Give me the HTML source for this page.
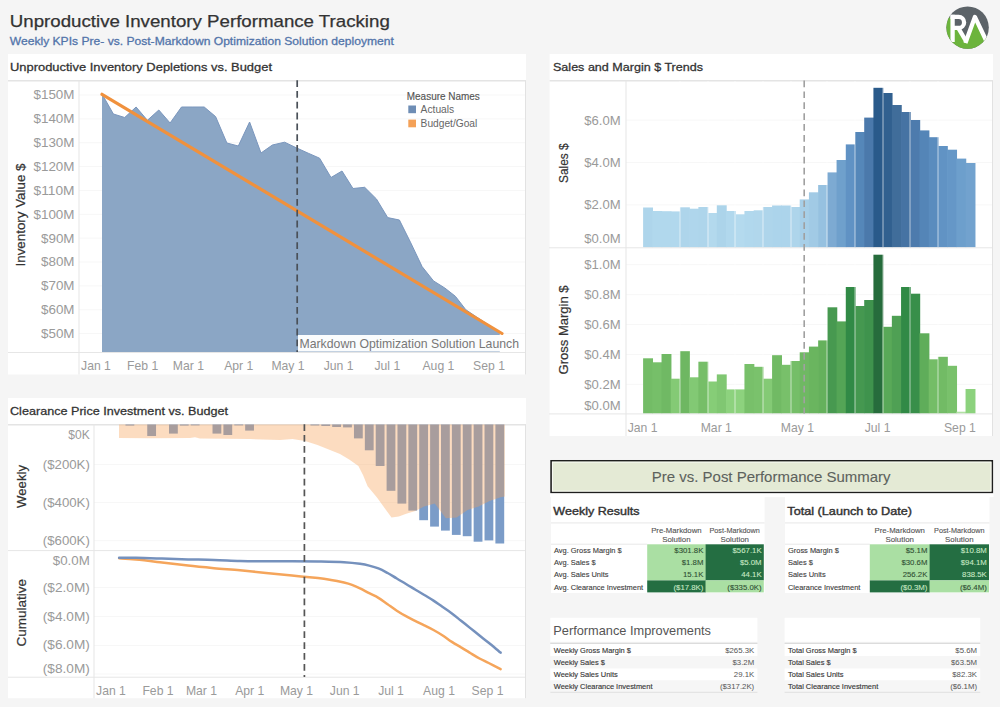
<!DOCTYPE html><html><head><meta charset="utf-8"><title>Unproductive Inventory Performance Tracking</title>
<style>html,body{margin:0;padding:0;background:#f5f5f5;}body{width:1000px;height:707px;overflow:hidden;font-family:"Liberation Sans", sans-serif;}svg{display:block;}svg text{font-family:"Liberation Sans", sans-serif;}</style></head><body>
<svg width="1000" height="707" viewBox="0 0 1000 707">
<rect x="0" y="0" width="1000" height="707" fill="#f5f5f5"/>
<text x="9.80" y="27.20" font-size="16.8" fill="#333333" textLength="380" lengthAdjust="spacingAndGlyphs" stroke="#333333" stroke-width="0.25" >Unproductive Inventory Performance Tracking</text>
<text x="9.80" y="45.00" font-size="11.6" fill="#5274aa" textLength="384" lengthAdjust="spacingAndGlyphs" stroke="#5274aa" stroke-width="0.3" >Weekly KPIs Pre- vs. Post-Markdown Optimization Solution deployment</text>
<defs><clipPath id="lc"><circle cx="967.6" cy="27.6" r="21.2"/></clipPath></defs>
<g clip-path="url(#lc)"><rect x="940" y="0" width="60" height="60" fill="#5c6368"/><path d="M940 17.5 L952 17.5 L952 28 L960 28 L966.3 38 L975.8 20 L986 37 L992 37 L992 55 L940 55 Z" fill="#6cb43c"/><g fill="none" stroke="#ffffff" stroke-width="4.3"><path d="M952.6 14.8 L952.6 42"/><path d="M950.5 16.9 H958.6 A5.5 5.5 0 0 1 958.6 27.9 H952.6"/><path d="M958 27.5 L966.5 42"/><path d="M965.4 43 L974.9 16.9 L987.8 44" stroke-linejoin="round"/></g></g>
<rect x="8" y="54" width="518" height="320.5" fill="#ffffff"/>
<rect x="8" y="80" width="518" height="1.5" fill="#e4e4e4"/>
<text x="10.00" y="70.70" font-size="11.6" fill="#333333" textLength="262" lengthAdjust="spacingAndGlyphs" stroke="#333333" stroke-width="0.28" >Unproductive Inventory Depletions vs. Budget</text>
<rect x="79" y="94.50" width="446" height="1" fill="#f7f7f7"/>
<rect x="79" y="118.36" width="446" height="1" fill="#f7f7f7"/>
<rect x="79" y="142.22" width="446" height="1" fill="#f7f7f7"/>
<rect x="79" y="166.08" width="446" height="1" fill="#f7f7f7"/>
<rect x="79" y="189.94" width="446" height="1" fill="#f7f7f7"/>
<rect x="79" y="213.80" width="446" height="1" fill="#f7f7f7"/>
<rect x="79" y="237.66" width="446" height="1" fill="#f7f7f7"/>
<rect x="79" y="261.52" width="446" height="1" fill="#f7f7f7"/>
<rect x="79" y="285.38" width="446" height="1" fill="#f7f7f7"/>
<rect x="79" y="309.24" width="446" height="1" fill="#f7f7f7"/>
<rect x="79" y="333.10" width="446" height="1" fill="#f7f7f7"/>
<polygon points="102.0,352.5 102.0,94.0 113.4,114.0 124.7,117.5 136.1,107.0 147.4,120.3 158.8,110.0 170.1,123.0 181.5,107.0 192.9,107.0 204.2,107.0 215.6,116.6 226.9,143.0 238.3,146.0 249.6,122.0 261.0,153.0 272.4,145.0 284.6,142.2 296.3,147.8 308.2,153.2 319.6,158.2 331.0,177.5 342.0,171.0 353.0,188.5 364.7,187.3 376.4,198.9 387.7,217.6 399.4,220.0 410.8,242.9 422.1,266.6 433.5,280.9 444.8,288.0 455.4,296.3 465.8,309.7 476.6,317.0 488.0,324.5 499.8,332.5 499.8,352.5" fill="#8ba6c5"/>
<polyline points="102.0,94.0 113.4,114.0 124.7,117.5 136.1,107.0 147.4,120.3 158.8,110.0 170.1,123.0 181.5,107.0 192.9,107.0 204.2,107.0 215.6,116.6 226.9,143.0 238.3,146.0 249.6,122.0 261.0,153.0 272.4,145.0 284.6,142.2 296.3,147.8 308.2,153.2 319.6,158.2 331.0,177.5 342.0,171.0 353.0,188.5 364.7,187.3 376.4,198.9 387.7,217.6 399.4,220.0 410.8,242.9 422.1,266.6 433.5,280.9 444.8,288.0 455.4,296.3 465.8,309.7 476.6,317.0 488.0,324.5 499.8,332.5" fill="none" stroke="#7a96bd" stroke-width="1" stroke-linejoin="round"/>
<line x1="102" y1="94.3" x2="502" y2="333.5" stroke="#f0913d" stroke-width="3.2" stroke-linecap="round"/>
<rect x="78.50" y="81" width="1" height="293.5" fill="#e6e6e6"/>
<rect x="8" y="352.00" width="517" height="1" fill="#e6e6e6"/>
<rect x="525.00" y="81" width="1" height="293.5" fill="#e2e2e2"/>
<line x1="297.2" y1="80.2" x2="297.2" y2="352" stroke="#4a5058" stroke-width="1.7" stroke-dasharray="6.8 4"/>
<rect x="298" y="335" width="223" height="16.5" fill="#ffffff" fill-opacity="0.96"/>
<text x="299.50" y="347.50" font-size="12.2" fill="#777777" textLength="219.5" lengthAdjust="spacingAndGlyphs" >Markdown Optimization Solution Launch</text>
<text x="74.50" y="99.40" font-size="12.2" fill="#9a9a9a" text-anchor="end" textLength="41" lengthAdjust="spacingAndGlyphs" >$150M</text>
<text x="74.50" y="123.26" font-size="12.2" fill="#9a9a9a" text-anchor="end" textLength="41" lengthAdjust="spacingAndGlyphs" >$140M</text>
<text x="74.50" y="147.12" font-size="12.2" fill="#9a9a9a" text-anchor="end" textLength="41" lengthAdjust="spacingAndGlyphs" >$130M</text>
<text x="74.50" y="170.98" font-size="12.2" fill="#9a9a9a" text-anchor="end" textLength="41" lengthAdjust="spacingAndGlyphs" >$120M</text>
<text x="74.50" y="194.84" font-size="12.2" fill="#9a9a9a" text-anchor="end" textLength="41" lengthAdjust="spacingAndGlyphs" >$110M</text>
<text x="74.50" y="218.70" font-size="12.2" fill="#9a9a9a" text-anchor="end" textLength="41" lengthAdjust="spacingAndGlyphs" >$100M</text>
<text x="74.50" y="242.56" font-size="12.2" fill="#9a9a9a" text-anchor="end" textLength="33.5" lengthAdjust="spacingAndGlyphs" >$90M</text>
<text x="74.50" y="266.42" font-size="12.2" fill="#9a9a9a" text-anchor="end" textLength="33.5" lengthAdjust="spacingAndGlyphs" >$80M</text>
<text x="74.50" y="290.28" font-size="12.2" fill="#9a9a9a" text-anchor="end" textLength="33.5" lengthAdjust="spacingAndGlyphs" >$70M</text>
<text x="74.50" y="314.14" font-size="12.2" fill="#9a9a9a" text-anchor="end" textLength="33.5" lengthAdjust="spacingAndGlyphs" >$60M</text>
<text x="74.50" y="338.00" font-size="12.2" fill="#9a9a9a" text-anchor="end" textLength="33.5" lengthAdjust="spacingAndGlyphs" >$50M</text>
<text x="0" y="0" font-size="12.3" fill="#333333" text-anchor="middle" transform="translate(25.4,215) rotate(-90)" textLength="103" lengthAdjust="spacingAndGlyphs" stroke="#333333" stroke-width="0.2">Inventory Value $</text>
<text x="96.00" y="370.30" font-size="12.2" fill="#9a9a9a" text-anchor="middle" >Jan 1</text>
<text x="142.60" y="370.30" font-size="12.2" fill="#9a9a9a" text-anchor="middle" >Feb 1</text>
<text x="188.40" y="370.30" font-size="12.2" fill="#9a9a9a" text-anchor="middle" >Mar 1</text>
<text x="238.70" y="370.30" font-size="12.2" fill="#9a9a9a" text-anchor="middle" >Apr 1</text>
<text x="288.00" y="370.30" font-size="12.2" fill="#9a9a9a" text-anchor="middle" >May 1</text>
<text x="338.60" y="370.30" font-size="12.2" fill="#9a9a9a" text-anchor="middle" >Jun 1</text>
<text x="387.30" y="370.30" font-size="12.2" fill="#9a9a9a" text-anchor="middle" >Jul 1</text>
<text x="438.40" y="370.30" font-size="12.2" fill="#9a9a9a" text-anchor="middle" >Aug 1</text>
<text x="489.00" y="370.30" font-size="12.2" fill="#9a9a9a" text-anchor="middle" >Sep 1</text>
<text x="406.80" y="100.00" font-size="10.4" fill="#555555" textLength="73" lengthAdjust="spacingAndGlyphs" stroke="#555555" stroke-width="0.15" >Measure Names</text>
<rect x="408.3" y="105.5" width="7.7" height="7.7" fill="#6e8db5"/>
<rect x="408.3" y="119.6" width="7.7" height="7.7" fill="#f4a158"/>
<text x="420.60" y="113.20" font-size="10.4" fill="#666666" textLength="33.6" lengthAdjust="spacingAndGlyphs" >Actuals</text>
<text x="420.60" y="127.30" font-size="10.4" fill="#666666" textLength="56.7" lengthAdjust="spacingAndGlyphs" >Budget/Goal</text>
<rect x="549.6" y="54" width="443.4" height="382" fill="#ffffff"/>
<rect x="549.6" y="80" width="443.4" height="1.5" fill="#e4e4e4"/>
<text x="553.00" y="70.70" font-size="11.6" fill="#333333" textLength="150" lengthAdjust="spacingAndGlyphs" stroke="#333333" stroke-width="0.28" >Sales and Margin $ Trends</text>
<rect x="626" y="204.40" width="366" height="1" fill="#f7f7f7"/>
<rect x="626" y="162.00" width="366" height="1" fill="#f7f7f7"/>
<rect x="626" y="119.60" width="366" height="1" fill="#f7f7f7"/>
<rect x="626" y="383.88" width="366" height="1" fill="#f7f7f7"/>
<rect x="626" y="353.96" width="366" height="1" fill="#f7f7f7"/>
<rect x="626" y="324.04" width="366" height="1" fill="#f7f7f7"/>
<rect x="626" y="294.12" width="366" height="1" fill="#f7f7f7"/>
<rect x="626" y="264.20" width="366" height="1" fill="#f7f7f7"/>
<rect x="643.10" y="207.5" width="9.91" height="39.80" fill="#aed5eb"/>
<rect x="652.31" y="211" width="9.91" height="36.30" fill="#b1d8ed"/>
<rect x="661.53" y="211.2" width="9.91" height="36.10" fill="#b1d8ed"/>
<rect x="670.74" y="211.4" width="9.91" height="35.90" fill="#b1d8ed"/>
<rect x="679.95" y="207.3" width="9.91" height="40.00" fill="#aed5eb"/>
<rect x="689.16" y="208.7" width="9.91" height="38.60" fill="#afd6ec"/>
<rect x="698.38" y="207" width="9.91" height="40.30" fill="#aed5eb"/>
<rect x="707.59" y="213" width="9.91" height="34.30" fill="#b3d9ed"/>
<rect x="716.80" y="205.3" width="9.91" height="42.00" fill="#acd4ea"/>
<rect x="726.02" y="211" width="9.91" height="36.30" fill="#b1d8ed"/>
<rect x="735.23" y="214.3" width="9.91" height="33.00" fill="#b4daee"/>
<rect x="744.44" y="211" width="9.91" height="36.30" fill="#b1d8ed"/>
<rect x="753.66" y="210.3" width="9.91" height="37.00" fill="#b1d7ec"/>
<rect x="762.87" y="207" width="9.91" height="40.30" fill="#aed5eb"/>
<rect x="772.08" y="205.5" width="9.91" height="41.80" fill="#acd4eb"/>
<rect x="781.30" y="205.5" width="9.91" height="41.80" fill="#acd4eb"/>
<rect x="790.51" y="207" width="9.91" height="40.30" fill="#aed5eb"/>
<rect x="799.72" y="199.4" width="9.91" height="47.90" fill="#a7cfe8"/>
<rect x="808.93" y="192.3" width="9.91" height="55.00" fill="#a1cae5"/>
<rect x="818.15" y="185" width="9.91" height="62.30" fill="#96c1e0"/>
<rect x="827.36" y="172.4" width="9.91" height="74.90" fill="#7daad2"/>
<rect x="836.57" y="160" width="9.91" height="87.30" fill="#6fa0cc"/>
<rect x="845.79" y="144.4" width="9.91" height="102.90" fill="#6092c4"/>
<rect x="855.00" y="132" width="9.91" height="115.30" fill="#5587b9"/>
<rect x="864.21" y="117.6" width="9.91" height="129.70" fill="#4b79ab"/>
<rect x="873.42" y="87.8" width="9.91" height="159.50" fill="#2a5a8a"/>
<rect x="882.64" y="93" width="9.91" height="154.30" fill="#31608f"/>
<rect x="891.85" y="105" width="9.91" height="142.30" fill="#406d9a"/>
<rect x="901.06" y="112" width="9.91" height="135.30" fill="#4673a3"/>
<rect x="910.28" y="120" width="9.91" height="127.30" fill="#4d7bad"/>
<rect x="919.49" y="130.4" width="9.91" height="116.90" fill="#5485b7"/>
<rect x="928.70" y="137.2" width="9.91" height="110.10" fill="#5a8cbe"/>
<rect x="937.92" y="146" width="9.91" height="101.30" fill="#6193c4"/>
<rect x="947.13" y="149.7" width="9.91" height="97.60" fill="#6597c7"/>
<rect x="956.34" y="158.6" width="9.91" height="88.70" fill="#6d9fcc"/>
<rect x="965.56" y="163" width="9.91" height="84.30" fill="#72a2ce"/>
<rect x="643.10" y="358.3" width="9.91" height="55.30" fill="#73bc66"/>
<rect x="652.31" y="362.3" width="9.91" height="51.30" fill="#76bf69"/>
<rect x="661.53" y="354" width="9.91" height="59.60" fill="#70b964"/>
<rect x="670.74" y="378.7" width="9.91" height="34.90" fill="#84ca75"/>
<rect x="679.95" y="351.2" width="9.91" height="62.40" fill="#6eb762"/>
<rect x="689.16" y="377.3" width="9.91" height="36.30" fill="#82c974"/>
<rect x="698.38" y="361.7" width="9.91" height="51.90" fill="#76be68"/>
<rect x="707.59" y="381.5" width="9.91" height="32.10" fill="#86cd77"/>
<rect x="716.80" y="374.4" width="9.91" height="39.20" fill="#80c772"/>
<rect x="726.02" y="389.4" width="9.91" height="24.20" fill="#8dd27e"/>
<rect x="735.23" y="389.4" width="9.91" height="24.20" fill="#8dd27e"/>
<rect x="744.44" y="364" width="9.91" height="49.60" fill="#78c06a"/>
<rect x="753.66" y="366.8" width="9.91" height="46.80" fill="#7ac26c"/>
<rect x="762.87" y="378.7" width="9.91" height="34.90" fill="#84ca75"/>
<rect x="772.08" y="355.2" width="9.91" height="58.40" fill="#71ba64"/>
<rect x="781.30" y="364.8" width="9.91" height="48.80" fill="#78c06a"/>
<rect x="790.51" y="361" width="9.91" height="52.60" fill="#75be68"/>
<rect x="799.72" y="352.3" width="9.91" height="61.30" fill="#6fb863"/>
<rect x="808.93" y="346.6" width="9.91" height="67.00" fill="#6ab55f"/>
<rect x="818.15" y="340.4" width="9.91" height="73.20" fill="#65b15c"/>
<rect x="827.36" y="307.3" width="9.91" height="106.30" fill="#479950"/>
<rect x="836.57" y="321.4" width="9.91" height="92.20" fill="#54a556"/>
<rect x="845.79" y="287" width="9.91" height="126.60" fill="#318a46"/>
<rect x="855.00" y="306" width="9.91" height="107.60" fill="#459850"/>
<rect x="864.21" y="300" width="9.91" height="113.60" fill="#3f934d"/>
<rect x="873.42" y="254.7" width="9.91" height="158.90" fill="#266c3c"/>
<rect x="882.64" y="326.8" width="9.91" height="86.80" fill="#59a958"/>
<rect x="891.85" y="315.8" width="9.91" height="97.80" fill="#4fa054"/>
<rect x="901.06" y="287" width="9.91" height="126.60" fill="#318a46"/>
<rect x="910.28" y="293.7" width="9.91" height="119.90" fill="#388f4a"/>
<rect x="919.49" y="333.3" width="9.91" height="80.30" fill="#5fad5a"/>
<rect x="928.70" y="359.3" width="9.91" height="54.30" fill="#74bd67"/>
<rect x="937.92" y="356.8" width="9.91" height="56.80" fill="#72bb65"/>
<rect x="947.13" y="365.8" width="9.91" height="47.80" fill="#79c16b"/>
<rect x="956.34" y="411.7" width="9.91" height="1.90" fill="#b2e0a5"/>
<rect x="965.56" y="389" width="9.91" height="24.60" fill="#8cd27d"/>
<rect x="679.50" y="81" width="1" height="166.3" fill="#ffffff" fill-opacity="0.6"/>
<rect x="679.50" y="248.5" width="1" height="165.10000000000002" fill="#ffffff" fill-opacity="0.6"/>
<rect x="707.50" y="81" width="1" height="166.3" fill="#ffffff" fill-opacity="0.6"/>
<rect x="707.50" y="248.5" width="1" height="165.10000000000002" fill="#ffffff" fill-opacity="0.6"/>
<rect x="734.50" y="81" width="1" height="166.3" fill="#ffffff" fill-opacity="0.6"/>
<rect x="734.50" y="248.5" width="1" height="165.10000000000002" fill="#ffffff" fill-opacity="0.6"/>
<rect x="762.50" y="81" width="1" height="166.3" fill="#ffffff" fill-opacity="0.6"/>
<rect x="762.50" y="248.5" width="1" height="165.10000000000002" fill="#ffffff" fill-opacity="0.6"/>
<rect x="790.50" y="81" width="1" height="166.3" fill="#ffffff" fill-opacity="0.6"/>
<rect x="790.50" y="248.5" width="1" height="165.10000000000002" fill="#ffffff" fill-opacity="0.6"/>
<rect x="826.50" y="81" width="1" height="166.3" fill="#ffffff" fill-opacity="0.6"/>
<rect x="826.50" y="248.5" width="1" height="165.10000000000002" fill="#ffffff" fill-opacity="0.6"/>
<rect x="854.50" y="81" width="1" height="166.3" fill="#ffffff" fill-opacity="0.6"/>
<rect x="854.50" y="248.5" width="1" height="165.10000000000002" fill="#ffffff" fill-opacity="0.6"/>
<rect x="882.50" y="81" width="1" height="166.3" fill="#ffffff" fill-opacity="0.6"/>
<rect x="882.50" y="248.5" width="1" height="165.10000000000002" fill="#ffffff" fill-opacity="0.6"/>
<rect x="909.50" y="81" width="1" height="166.3" fill="#ffffff" fill-opacity="0.6"/>
<rect x="909.50" y="248.5" width="1" height="165.10000000000002" fill="#ffffff" fill-opacity="0.6"/>
<rect x="937.50" y="81" width="1" height="166.3" fill="#ffffff" fill-opacity="0.6"/>
<rect x="937.50" y="248.5" width="1" height="165.10000000000002" fill="#ffffff" fill-opacity="0.6"/>
<rect x="625.50" y="81" width="1" height="355" fill="#e6e6e6"/>
<rect x="549" y="247.30" width="443" height="1" fill="#e6e6e6"/>
<rect x="549" y="413.40" width="443" height="1" fill="#e6e6e6"/>
<rect x="992.00" y="81" width="1" height="355" fill="#e2e2e2"/>
<line x1="804.2" y1="80.5" x2="804.2" y2="413.5" stroke="#a0a0a0" stroke-width="1.6" stroke-dasharray="6.7 4.2"/>
<text x="620.60" y="124.50" font-size="12.2" fill="#9a9a9a" text-anchor="end" textLength="36.4" lengthAdjust="spacingAndGlyphs" >$6.0M</text>
<text x="620.60" y="166.90" font-size="12.2" fill="#9a9a9a" text-anchor="end" textLength="36.4" lengthAdjust="spacingAndGlyphs" >$4.0M</text>
<text x="620.60" y="209.30" font-size="12.2" fill="#9a9a9a" text-anchor="end" textLength="36.4" lengthAdjust="spacingAndGlyphs" >$2.0M</text>
<text x="620.60" y="243.20" font-size="12.2" fill="#9a9a9a" text-anchor="end" textLength="36.4" lengthAdjust="spacingAndGlyphs" >$0.0M</text>
<text x="620.60" y="269.10" font-size="12.2" fill="#9a9a9a" text-anchor="end" textLength="36.4" lengthAdjust="spacingAndGlyphs" >$1.0M</text>
<text x="620.60" y="299.02" font-size="12.2" fill="#9a9a9a" text-anchor="end" textLength="36.4" lengthAdjust="spacingAndGlyphs" >$0.8M</text>
<text x="620.60" y="328.94" font-size="12.2" fill="#9a9a9a" text-anchor="end" textLength="36.4" lengthAdjust="spacingAndGlyphs" >$0.6M</text>
<text x="620.60" y="358.86" font-size="12.2" fill="#9a9a9a" text-anchor="end" textLength="36.4" lengthAdjust="spacingAndGlyphs" >$0.4M</text>
<text x="620.60" y="388.78" font-size="12.2" fill="#9a9a9a" text-anchor="end" textLength="36.4" lengthAdjust="spacingAndGlyphs" >$0.2M</text>
<text x="620.60" y="409.50" font-size="12.2" fill="#9a9a9a" text-anchor="end" textLength="36.4" lengthAdjust="spacingAndGlyphs" >$0.0M</text>
<text x="0" y="0" font-size="12.3" fill="#333333" text-anchor="middle" transform="translate(568.2,163.2) rotate(-90)" textLength="39.6" lengthAdjust="spacingAndGlyphs" stroke="#333333" stroke-width="0.2">Sales $</text>
<text x="0" y="0" font-size="12.3" fill="#333333" text-anchor="middle" transform="translate(568.2,329.9) rotate(-90)" textLength="89" lengthAdjust="spacingAndGlyphs" stroke="#333333" stroke-width="0.2">Gross Margin $</text>
<text x="642.60" y="432.00" font-size="12.2" fill="#9a9a9a" text-anchor="middle" >Jan 1</text>
<text x="716.30" y="432.00" font-size="12.2" fill="#9a9a9a" text-anchor="middle" >Mar 1</text>
<text x="797.40" y="432.00" font-size="12.2" fill="#9a9a9a" text-anchor="middle" >May 1</text>
<text x="877.60" y="432.00" font-size="12.2" fill="#9a9a9a" text-anchor="middle" >Jul 1</text>
<text x="959.90" y="432.00" font-size="12.2" fill="#9a9a9a" text-anchor="middle" >Sep 1</text>
<rect x="8" y="398" width="518" height="300.20000000000005" fill="#ffffff"/>
<rect x="8" y="424" width="518" height="1.5" fill="#e4e4e4"/>
<text x="10.00" y="414.70" font-size="11.6" fill="#333333" textLength="218" lengthAdjust="spacingAndGlyphs" stroke="#333333" stroke-width="0.28" >Clearance Price Investment vs. Budget</text>
<rect x="94" y="464.00" width="431.5" height="1" fill="#f7f7f7"/>
<rect x="94" y="502.10" width="431.5" height="1" fill="#f7f7f7"/>
<rect x="94" y="540.20" width="431.5" height="1" fill="#f7f7f7"/>
<rect x="94" y="586.90" width="431.5" height="1" fill="#f7f7f7"/>
<rect x="94" y="616.10" width="431.5" height="1" fill="#f7f7f7"/>
<rect x="94" y="645.00" width="431.5" height="1" fill="#f7f7f7"/>
<rect x="94" y="673.50" width="431.5" height="1" fill="#f7f7f7"/>
<rect x="125.48" y="424.5" width="8.8" height="1.10" fill="#7b9cc8"/>
<rect x="147.24" y="424.5" width="8.8" height="11.50" fill="#7b9cc8"/>
<rect x="169.00" y="424.5" width="8.8" height="9.10" fill="#7b9cc8"/>
<rect x="179.88" y="424.5" width="8.8" height="1.10" fill="#7b9cc8"/>
<rect x="190.76" y="424.5" width="8.8" height="0.90" fill="#7b9cc8"/>
<rect x="212.52" y="424.5" width="8.8" height="9.10" fill="#7b9cc8"/>
<rect x="223.40" y="424.5" width="8.8" height="10.50" fill="#7b9cc8"/>
<rect x="234.28" y="424.5" width="8.8" height="0.90" fill="#7b9cc8"/>
<rect x="245.16" y="424.5" width="8.8" height="6.10" fill="#7b9cc8"/>
<rect x="310.44" y="424.5" width="8.8" height="1.00" fill="#7b9cc8"/>
<rect x="321.32" y="424.5" width="8.8" height="1.50" fill="#7b9cc8"/>
<rect x="332.20" y="424.5" width="8.8" height="2.50" fill="#7b9cc8"/>
<rect x="343.08" y="424.5" width="8.8" height="2.90" fill="#7b9cc8"/>
<rect x="353.96" y="424.5" width="8.8" height="13.90" fill="#7b9cc8"/>
<rect x="364.84" y="424.5" width="8.8" height="25.80" fill="#7b9cc8"/>
<rect x="375.72" y="424.5" width="8.8" height="41.50" fill="#7b9cc8"/>
<rect x="386.60" y="424.5" width="8.8" height="66.30" fill="#7b9cc8"/>
<rect x="397.48" y="424.5" width="8.8" height="79.10" fill="#7b9cc8"/>
<rect x="408.36" y="424.5" width="8.8" height="86.10" fill="#7b9cc8"/>
<rect x="419.24" y="424.5" width="8.8" height="95.70" fill="#7b9cc8"/>
<rect x="430.12" y="424.5" width="8.8" height="102.10" fill="#7b9cc8"/>
<rect x="441.00" y="424.5" width="8.8" height="106.10" fill="#7b9cc8"/>
<rect x="451.88" y="424.5" width="8.8" height="110.40" fill="#7b9cc8"/>
<rect x="462.76" y="424.5" width="8.8" height="111.70" fill="#7b9cc8"/>
<rect x="473.64" y="424.5" width="8.8" height="117.20" fill="#7b9cc8"/>
<rect x="484.52" y="424.5" width="8.8" height="115.90" fill="#7b9cc8"/>
<rect x="495.40" y="424.5" width="8.8" height="119.00" fill="#7b9cc8"/>
<polygon points="119.0,424.5 504.8,424.5 504.8,496.5 500.5,497.2 489.6,500.9 478.6,506.4 467.5,510.0 456.7,517.4 445.9,518.3 434.8,503.6 424.0,506.4 415.4,511.0 406.2,513.7 398.8,516.5 391.5,517.4 386.0,510.0 376.8,497.2 367.6,486.2 363.0,475.0 358.4,466.0 349.2,459.5 340.0,454.0 330.0,450.0 317.5,445.0 305.0,441.0 292.5,439.0 280.0,440.0 250.0,439.0 200.0,438.5 195.0,437.2 190.0,438.0 150.0,438.3 119.0,438.0" fill="#f8a153" fill-opacity="0.37"/>
<path d="M119.1,558.3 C121.9,558.5 128.8,558.9 136.0,559.6 C143.2,560.3 153.3,561.5 162.0,562.5 C170.7,563.5 179.3,564.6 188.0,565.6 C196.7,566.6 205.3,567.4 214.0,568.2 C222.7,569.0 231.3,569.5 240.0,570.3 C248.7,571.1 257.3,572.0 266.0,572.9 C274.7,573.8 283.3,574.6 292.0,575.5 C300.7,576.4 311.5,577.4 318.0,578.1 C324.5,578.8 326.7,579.2 331.0,579.9 C335.3,580.6 340.5,581.7 344.0,582.5 C347.5,583.3 349.3,583.8 352.0,584.8 C354.7,585.8 357.1,586.9 360.0,588.3 C362.9,589.7 366.1,591.6 369.2,593.2 C372.3,594.8 375.3,596.0 378.4,597.8 C381.5,599.6 384.5,602.1 387.6,604.2 C390.7,606.4 393.7,608.7 396.8,610.7 C399.9,612.7 402.9,614.5 406.0,616.2 C409.1,617.9 412.1,619.3 415.1,620.8 C418.2,622.3 421.2,623.9 424.3,625.4 C427.4,626.9 430.4,628.3 433.5,630.0 C436.6,631.7 439.6,633.5 442.7,635.5 C445.8,637.5 448.8,639.9 451.9,641.9 C455.0,643.9 458.0,645.5 461.1,647.4 C464.2,649.2 467.2,651.1 470.3,653.0 C473.4,654.9 476.4,656.8 479.5,658.5 C482.6,660.2 485.2,661.2 488.7,663.0 C492.2,664.8 498.6,668.1 500.6,669.1" fill="none" stroke="#f5a55b" stroke-width="2.5" stroke-linecap="round"/>
<path d="M119.1,557.8 C121.9,557.8 128.8,557.7 136.0,557.8 C143.2,557.9 153.3,558.3 162.0,558.6 C170.7,558.9 179.3,559.2 188.0,559.4 C196.7,559.6 205.3,559.6 214.0,559.9 C222.7,560.1 231.3,560.7 240.0,560.9 C248.7,561.1 257.3,561.2 266.0,561.2 C274.7,561.2 283.3,561.2 292.0,561.2 C300.7,561.2 309.3,561.2 318.0,561.4 C326.7,561.6 337.0,561.8 344.0,562.2 C351.0,562.6 355.8,563.2 360.0,563.8 C364.2,564.4 366.1,564.8 369.2,565.6 C372.3,566.4 375.3,567.2 378.4,568.4 C381.5,569.6 384.5,571.3 387.6,573.0 C390.7,574.7 393.7,576.7 396.8,578.5 C399.9,580.3 402.9,582.2 406.0,584.0 C409.1,585.8 412.1,587.7 415.1,589.5 C418.2,591.3 421.2,593.1 424.3,595.0 C427.4,596.9 430.4,598.6 433.5,600.6 C436.6,602.6 439.6,604.9 442.7,607.0 C445.8,609.1 448.8,611.1 451.9,613.4 C455.0,615.7 458.0,618.3 461.1,620.8 C464.2,623.2 467.2,625.6 470.3,628.1 C473.4,630.6 476.4,633.0 479.5,635.5 C482.6,638.0 485.2,639.9 488.7,642.8 C492.2,645.6 498.6,651.0 500.6,652.6" fill="none" stroke="#7591bd" stroke-width="2.5" stroke-linecap="round"/>
<rect x="93.50" y="424.5" width="1" height="273.70000000000005" fill="#e6e6e6"/>
<rect x="8" y="550.10" width="517.5" height="1" fill="#e6e6e6"/>
<rect x="8" y="676.70" width="517.5" height="1" fill="#e6e6e6"/>
<rect x="525.00" y="424.5" width="1" height="273.70000000000005" fill="#e2e2e2"/>
<line x1="304.4" y1="424.2" x2="304.4" y2="677" stroke="#555555" stroke-width="1.7" stroke-dasharray="6.7 4.2"/>
<text x="89.80" y="438.80" font-size="12.2" fill="#9a9a9a" text-anchor="end" textLength="21.5" lengthAdjust="spacingAndGlyphs" >$0K</text>
<text x="89.80" y="468.90" font-size="12.2" fill="#9a9a9a" text-anchor="end" textLength="47" lengthAdjust="spacingAndGlyphs" >($200K)</text>
<text x="89.80" y="507.00" font-size="12.2" fill="#9a9a9a" text-anchor="end" textLength="47" lengthAdjust="spacingAndGlyphs" >($400K)</text>
<text x="89.80" y="545.10" font-size="12.2" fill="#9a9a9a" text-anchor="end" textLength="47" lengthAdjust="spacingAndGlyphs" >($600K)</text>
<text x="89.80" y="564.80" font-size="12.2" fill="#9a9a9a" text-anchor="end" textLength="37" lengthAdjust="spacingAndGlyphs" >$0.0M</text>
<text x="89.80" y="591.80" font-size="12.2" fill="#9a9a9a" text-anchor="end" textLength="47" lengthAdjust="spacingAndGlyphs" >($2.0M)</text>
<text x="89.80" y="621.00" font-size="12.2" fill="#9a9a9a" text-anchor="end" textLength="47" lengthAdjust="spacingAndGlyphs" >($4.0M)</text>
<text x="89.80" y="649.40" font-size="12.2" fill="#9a9a9a" text-anchor="end" textLength="47" lengthAdjust="spacingAndGlyphs" >($6.0M)</text>
<text x="89.80" y="673.40" font-size="12.2" fill="#9a9a9a" text-anchor="end" textLength="47" lengthAdjust="spacingAndGlyphs" >($8.0M)</text>
<text x="0" y="0" font-size="12.3" fill="#333333" text-anchor="middle" transform="translate(25.6,486.5) rotate(-90)" textLength="43" lengthAdjust="spacingAndGlyphs" stroke="#333333" stroke-width="0.2">Weekly</text>
<text x="0" y="0" font-size="12.3" fill="#333333" text-anchor="middle" transform="translate(25.6,612.8) rotate(-90)" textLength="67.6" lengthAdjust="spacingAndGlyphs" stroke="#333333" stroke-width="0.2">Cumulative</text>
<text x="111.00" y="694.50" font-size="12.2" fill="#9a9a9a" text-anchor="middle" >Jan 1</text>
<text x="158.00" y="694.50" font-size="12.2" fill="#9a9a9a" text-anchor="middle" >Feb 1</text>
<text x="201.50" y="694.50" font-size="12.2" fill="#9a9a9a" text-anchor="middle" >Mar 1</text>
<text x="249.70" y="694.50" font-size="12.2" fill="#9a9a9a" text-anchor="middle" >Apr 1</text>
<text x="296.50" y="694.50" font-size="12.2" fill="#9a9a9a" text-anchor="middle" >May 1</text>
<text x="344.70" y="694.50" font-size="12.2" fill="#9a9a9a" text-anchor="middle" >Jun 1</text>
<text x="391.00" y="694.50" font-size="12.2" fill="#9a9a9a" text-anchor="middle" >Jul 1</text>
<text x="439.00" y="694.50" font-size="12.2" fill="#9a9a9a" text-anchor="middle" >Aug 1</text>
<text x="487.50" y="694.50" font-size="12.2" fill="#9a9a9a" text-anchor="middle" >Sep 1</text>
<rect x="551.1" y="460.8" width="441.2" height="31.6" fill="#e4ead5" stroke="#1e1e1e" stroke-width="1.6"/>
<rect x="552.4" y="462.1" width="438.6" height="29" fill="none" stroke="#fafbf6" stroke-width="0.9"/>
<rect x="550" y="493.6" width="443.5" height="3.5" fill="#ffffff"/>
<text x="771.20" y="482.40" font-size="14.6" fill="#5d625d" text-anchor="middle" textLength="238.7" lengthAdjust="spacingAndGlyphs" stroke="#5d625d" stroke-width="0.1" >Pre vs. Post Performance Summary</text>
<rect x="551" y="497" width="213.60000000000002" height="96" fill="#ffffff"/>
<text x="553.30" y="515.20" font-size="11.2" fill="#333333" textLength="86.3" lengthAdjust="spacingAndGlyphs" stroke="#333333" stroke-width="0.4" >Weekly Results</text>
<rect x="551" y="522.30" width="213.60000000000002" height="1.2" fill="#ececec"/>
<text x="676.40" y="532.60" font-size="7.8" fill="#555555" text-anchor="middle" textLength="50.4" lengthAdjust="spacingAndGlyphs" stroke="#555555" stroke-width="0.12" >Pre-Markdown</text>
<text x="676.40" y="542.20" font-size="7.8" fill="#555555" text-anchor="middle" textLength="28.5" lengthAdjust="spacingAndGlyphs" stroke="#555555" stroke-width="0.12" >Solution</text>
<text x="734.70" y="532.60" font-size="7.8" fill="#555555" text-anchor="middle" textLength="50.4" lengthAdjust="spacingAndGlyphs" stroke="#555555" stroke-width="0.12" >Post-Markdown</text>
<text x="734.70" y="542.20" font-size="7.8" fill="#555555" text-anchor="middle" textLength="28.5" lengthAdjust="spacingAndGlyphs" stroke="#555555" stroke-width="0.12" >Solution</text>
<rect x="551" y="543.70" width="96.20000000000005" height="1" fill="#e8e8e8"/>
<rect x="647.20" y="544.3" width="58.70" height="36.10" fill="#aadfa3"/>
<rect x="647.20" y="580.4" width="58.70" height="12.00" fill="#246e42"/>
<rect x="705.60" y="544.3" width="58.20" height="36.10" fill="#246e42"/>
<rect x="705.60" y="580.4" width="58.20" height="12.00" fill="#aadfa3"/>
<text x="554.00" y="553.40" font-size="7.45" fill="#404040" stroke="#404040" stroke-width="0.12" >Avg. Gross Margin $</text>
<text x="554.00" y="565.40" font-size="7.45" fill="#404040" stroke="#404040" stroke-width="0.12" >Avg. Sales $</text>
<text x="554.00" y="577.40" font-size="7.45" fill="#404040" stroke="#404040" stroke-width="0.12" >Avg. Sales Units</text>
<text x="554.00" y="589.50" font-size="7.45" fill="#404040" stroke="#404040" stroke-width="0.12" >Avg. Clearance Investment</text>
<text x="703.40" y="553.40" font-size="7.8" fill="#2f4f33" text-anchor="end" stroke="#2f4f33" stroke-width="0.1" >$301.8K</text>
<text x="703.40" y="565.40" font-size="7.8" fill="#2f4f33" text-anchor="end" stroke="#2f4f33" stroke-width="0.1" >$1.8M</text>
<text x="703.40" y="577.40" font-size="7.8" fill="#2f4f33" text-anchor="end" stroke="#2f4f33" stroke-width="0.1" >15.1K</text>
<text x="703.40" y="589.50" font-size="7.8" fill="#c8e8c4" text-anchor="end" stroke="#c8e8c4" stroke-width="0.1" >($17.8K)</text>
<text x="761.60" y="553.40" font-size="7.8" fill="#c8e8c4" text-anchor="end" stroke="#c8e8c4" stroke-width="0.1" >$567.1K</text>
<text x="761.60" y="565.40" font-size="7.8" fill="#c8e8c4" text-anchor="end" stroke="#c8e8c4" stroke-width="0.1" >$5.0M</text>
<text x="761.60" y="577.40" font-size="7.8" fill="#c8e8c4" text-anchor="end" stroke="#c8e8c4" stroke-width="0.1" >44.1K</text>
<text x="761.60" y="589.50" font-size="7.8" fill="#2f4f33" text-anchor="end" stroke="#2f4f33" stroke-width="0.1" >($335.0K)</text>
<rect x="785" y="497" width="204.5" height="96" fill="#ffffff"/>
<text x="787.30" y="515.20" font-size="11.2" fill="#333333" textLength="124.7" lengthAdjust="spacingAndGlyphs" stroke="#333333" stroke-width="0.4" >Total (Launch to Date)</text>
<rect x="785" y="522.30" width="204.5" height="1.2" fill="#ececec"/>
<text x="899.70" y="532.60" font-size="7.8" fill="#555555" text-anchor="middle" textLength="50.4" lengthAdjust="spacingAndGlyphs" stroke="#555555" stroke-width="0.12" >Pre-Markdown</text>
<text x="899.70" y="542.20" font-size="7.8" fill="#555555" text-anchor="middle" textLength="28.5" lengthAdjust="spacingAndGlyphs" stroke="#555555" stroke-width="0.12" >Solution</text>
<text x="959.30" y="532.60" font-size="7.8" fill="#555555" text-anchor="middle" textLength="50.4" lengthAdjust="spacingAndGlyphs" stroke="#555555" stroke-width="0.12" >Post-Markdown</text>
<text x="959.30" y="542.20" font-size="7.8" fill="#555555" text-anchor="middle" textLength="28.5" lengthAdjust="spacingAndGlyphs" stroke="#555555" stroke-width="0.12" >Solution</text>
<rect x="785" y="543.70" width="84.79999999999995" height="1" fill="#e8e8e8"/>
<rect x="869.80" y="544.3" width="60.10" height="36.10" fill="#aadfa3"/>
<rect x="869.80" y="580.4" width="60.10" height="12.00" fill="#246e42"/>
<rect x="929.60" y="544.3" width="59.40" height="36.10" fill="#246e42"/>
<rect x="929.60" y="580.4" width="59.40" height="12.00" fill="#aadfa3"/>
<text x="788.00" y="553.40" font-size="7.45" fill="#404040" stroke="#404040" stroke-width="0.12" >Gross Margin $</text>
<text x="788.00" y="565.40" font-size="7.45" fill="#404040" stroke="#404040" stroke-width="0.12" >Sales $</text>
<text x="788.00" y="577.40" font-size="7.45" fill="#404040" stroke="#404040" stroke-width="0.12" >Sales Units</text>
<text x="788.00" y="589.50" font-size="7.45" fill="#404040" stroke="#404040" stroke-width="0.12" >Clearance Investment</text>
<text x="927.40" y="553.40" font-size="7.8" fill="#2f4f33" text-anchor="end" stroke="#2f4f33" stroke-width="0.1" >$5.1M</text>
<text x="927.40" y="565.40" font-size="7.8" fill="#2f4f33" text-anchor="end" stroke="#2f4f33" stroke-width="0.1" >$30.6M</text>
<text x="927.40" y="577.40" font-size="7.8" fill="#2f4f33" text-anchor="end" stroke="#2f4f33" stroke-width="0.1" >256.2K</text>
<text x="927.40" y="589.50" font-size="7.8" fill="#c8e8c4" text-anchor="end" stroke="#c8e8c4" stroke-width="0.1" >($0.3M)</text>
<text x="986.80" y="553.40" font-size="7.8" fill="#c8e8c4" text-anchor="end" stroke="#c8e8c4" stroke-width="0.1" >$10.8M</text>
<text x="986.80" y="565.40" font-size="7.8" fill="#c8e8c4" text-anchor="end" stroke="#c8e8c4" stroke-width="0.1" >$94.1M</text>
<text x="986.80" y="577.40" font-size="7.8" fill="#c8e8c4" text-anchor="end" stroke="#c8e8c4" stroke-width="0.1" >838.5K</text>
<text x="986.80" y="589.50" font-size="7.8" fill="#2f4f33" text-anchor="end" stroke="#2f4f33" stroke-width="0.1" >($6.4M)</text>
<rect x="550.3" y="617.8" width="207.10000000000002" height="24" fill="#ffffff"/>
<text x="553.30" y="634.50" font-size="12.8" fill="#555555" textLength="157.7" lengthAdjust="spacingAndGlyphs" >Performance Improvements</text>
<rect x="550.3" y="642.75" width="207.10000000000002" height="1.3" fill="#dcdcdc"/>
<rect x="550.3" y="644" width="207.10000000000002" height="12.20" fill="#ffffff"/>
<rect x="550.3" y="656.2" width="207.10000000000002" height="12.20" fill="#f6f6f6"/>
<rect x="550.3" y="668.4" width="207.10000000000002" height="12.20" fill="#ffffff"/>
<rect x="550.3" y="680.6" width="207.10000000000002" height="11.40" fill="#f6f6f6"/>
<rect x="550.3" y="691.80" width="207.10000000000002" height="1" fill="#e0e0e0"/>
<text x="553.80" y="652.70" font-size="7.45" fill="#383838" stroke="#383838" stroke-width="0.14" >Weekly Gross Margin $</text>
<text x="754.20" y="652.70" font-size="7.8" fill="#555555" text-anchor="end" >$265.3K</text>
<text x="553.80" y="664.90" font-size="7.45" fill="#383838" stroke="#383838" stroke-width="0.14" >Weekly Sales $</text>
<text x="754.20" y="664.90" font-size="7.8" fill="#555555" text-anchor="end" >$3.2M</text>
<text x="553.80" y="677.10" font-size="7.45" fill="#383838" stroke="#383838" stroke-width="0.14" >Weekly Sales Units</text>
<text x="754.20" y="677.10" font-size="7.8" fill="#555555" text-anchor="end" >29.1K</text>
<text x="553.80" y="689.30" font-size="7.45" fill="#383838" stroke="#383838" stroke-width="0.14" >Weekly Clearance Investment</text>
<text x="754.20" y="689.30" font-size="7.8" fill="#555555" text-anchor="end" >($317.2K)</text>
<rect x="784.6" y="617.8" width="195.60000000000002" height="24" fill="#ffffff"/>
<rect x="784.6" y="642.75" width="195.60000000000002" height="1.3" fill="#dcdcdc"/>
<rect x="784.6" y="644" width="195.60000000000002" height="12.20" fill="#ffffff"/>
<rect x="784.6" y="656.2" width="195.60000000000002" height="12.20" fill="#f6f6f6"/>
<rect x="784.6" y="668.4" width="195.60000000000002" height="12.20" fill="#ffffff"/>
<rect x="784.6" y="680.6" width="195.60000000000002" height="11.40" fill="#f6f6f6"/>
<rect x="784.6" y="691.80" width="195.60000000000002" height="1" fill="#e0e0e0"/>
<text x="788.10" y="652.70" font-size="7.45" fill="#383838" stroke="#383838" stroke-width="0.14" >Total Gross Margin $</text>
<text x="977.00" y="652.70" font-size="7.8" fill="#555555" text-anchor="end" >$5.6M</text>
<text x="788.10" y="664.90" font-size="7.45" fill="#383838" stroke="#383838" stroke-width="0.14" >Total Sales $</text>
<text x="977.00" y="664.90" font-size="7.8" fill="#555555" text-anchor="end" >$63.5M</text>
<text x="788.10" y="677.10" font-size="7.45" fill="#383838" stroke="#383838" stroke-width="0.14" >Total Sales Units</text>
<text x="977.00" y="677.10" font-size="7.8" fill="#555555" text-anchor="end" >$82.3K</text>
<text x="788.10" y="689.30" font-size="7.45" fill="#383838" stroke="#383838" stroke-width="0.14" >Total Clearance Investment</text>
<text x="977.00" y="689.30" font-size="7.8" fill="#555555" text-anchor="end" >($6.1M)</text>
</svg></body></html>
